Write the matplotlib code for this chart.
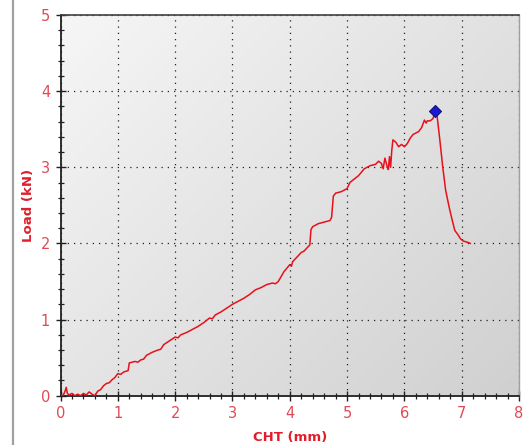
import numpy as np
import matplotlib
matplotlib.use("Agg")
import matplotlib.pyplot as plt
from matplotlib.lines import Line2D
from matplotlib.ticker import MultipleLocator

# Data
cht_mm = [0, 0.05, 0.08, 0.1, 0.12, 0.15, 0.2, 0.25, 0.3, 0.35, 0.4, 0.45, 0.5, 0.55, 0.6,
          0.65, 0.7, 0.75, 0.8, 0.85, 0.9, 0.95, 1.0, 1.05, 1.1, 1.18, 1.2, 1.25, 1.3, 1.35,
          1.4, 1.45, 1.5, 1.6, 1.7, 1.75, 1.8, 1.9, 2.0, 2.05,
          2.1, 2.2, 2.3, 2.4, 2.5, 2.6, 2.65, 2.7, 2.8, 2.9, 3.0, 3.1, 3.2, 3.3, 3.4, 3.5, 3.55,
          3.6, 3.7, 3.75, 3.8, 3.9, 4.0, 4.03, 4.05, 4.1, 4.2, 4.25, 4.3, 4.35, 4.37, 4.4, 4.5,
          4.6, 4.7, 4.73, 4.76, 4.8, 4.9, 5.0, 5.05, 5.1, 5.2, 5.3, 5.4, 5.5, 5.55, 5.6, 5.63,
          5.66, 5.7, 5.72, 5.74, 5.76, 5.78, 5.8, 5.85, 5.9, 5.95, 6.0, 6.05, 6.1, 6.15, 6.2,
          6.25, 6.3, 6.35, 6.38, 6.4, 6.45, 6.5, 6.53, 6.57, 6.62, 6.67, 6.72, 6.78, 6.83,
          6.88, 6.93, 6.98, 7.03, 7.08, 7.12, 7.15]
load_kn = [0, 0.01, 0.06, 0.11, 0.03, 0.01, 0.03, 0.0, 0.02, 0.0, 0.03, 0.01, 0.05, 0.02, 0.0,
           0.06, 0.08, 0.13, 0.16, 0.17, 0.21, 0.24, 0.29, 0.28, 0.31, 0.33, 0.43, 0.44, 0.45,
           0.44, 0.47, 0.48, 0.53, 0.57, 0.60, 0.61, 0.67, 0.72, 0.77, 0.76,
           0.80, 0.83, 0.87, 0.91, 0.96, 1.02, 1.01, 1.06, 1.10, 1.15, 1.20, 1.24, 1.28,
           1.33, 1.39, 1.42, 1.44, 1.46, 1.48, 1.47, 1.50, 1.63, 1.72, 1.70, 1.76, 1.80, 1.88,
           1.90, 1.94, 1.98, 2.18, 2.22, 2.26, 2.28, 2.30, 2.34, 2.62, 2.66, 2.68, 2.72, 2.80,
           2.83, 2.89, 2.98, 3.02, 3.04, 3.08, 3.05, 2.98, 3.12, 3.01, 2.97, 3.14, 3.00, 3.22,
           3.36, 3.33, 3.27, 3.30, 3.27, 3.31, 3.38, 3.43, 3.45, 3.47, 3.52, 3.62, 3.58, 3.61,
           3.61, 3.64, 3.72, 3.68, 3.35, 3.0, 2.70, 2.48, 2.32, 2.17, 2.12, 2.06, 2.03, 2.02,
           2.01, 2.00]
peak_x = [6.53]
peak_y = [3.74]
x_ticks = [0, 1, 2, 3, 4, 5, 6, 7, 8]
y_ticks = [0, 1, 2, 3, 4, 5]

red_line = "#e8101a"
tick_red = "#e04a58"
label_red = "#e01e2a"

fig = plt.figure(figsize=(5.23, 4.45), dpi=100)
W, H = 523, 445
ax = fig.add_axes([60.5 / W, 1 - 395.7 / H, (519 - 60.5) / W, (395.7 - 15) / H])

# gradient background
n = 200
u = np.linspace(0, 1, n)
U, V = np.meshgrid(u, u)  # V: 0 top -> 1 bottom (imshow origin upper)
g = 0.965 - 0.15 * (0.55 * U + 0.45 * V)
ax.imshow(np.dstack([g, g, g]), extent=[0, 1, 0, 1], transform=ax.transAxes,
          aspect="auto", zorder=0, origin="upper")

ax.set_xlim(0, 8)
ax.set_ylim(0, 5)
ax.set_xticks(x_ticks)
ax.set_yticks(y_ticks)
ax.xaxis.set_minor_locator(MultipleLocator(0.2))
ax.yaxis.set_minor_locator(MultipleLocator(0.2))
ax.grid(True, which="major", linestyle=(0, (1, 4)), color="#202020", linewidth=0.9, zorder=1)

ax.plot(cht_mm, load_kn, color=red_line, linewidth=1.1, zorder=3)
ax.plot(peak_x, peak_y, marker="D", markersize=6, color="#1a1ad0",
        markeredgecolor="#101080", markeredgewidth=0.8, linestyle="none", zorder=4)

ax.tick_params(axis="both", which="major", direction="inout", length=7, width=1.0,
               color="#202020", labelsize=10.5, labelcolor=tick_red, pad=4)
ax.tick_params(axis="both", which="minor", direction="inout", length=5, width=0.9,
               color="#202020")
ax.tick_params(axis="y", pad=4)
ax.tick_params(top=False, right=False, which="both")

for s in ["left", "bottom"]:
    ax.spines[s].set_color("#202020")
    ax.spines[s].set_linewidth(1.3)
ax.spines["top"].set_color("#404040")
ax.spines["top"].set_linewidth(1.2)
ax.spines["right"].set_color("#a0a0a0")
ax.spines["right"].set_linewidth(1.0)

ax.set_xlabel("CHT (mm)", color=label_red, fontsize=9.5, fontweight="bold", labelpad=7)
ax.set_ylabel("Load (kN)", color=label_red, fontsize=9.5, fontweight="bold", labelpad=4)

# left border line of the window
fig.add_artist(Line2D([12.5 / W, 12.5 / W], [0, 1], color="#a0a0a0", linewidth=1.6,
                      transform=fig.transFigure))

fig.savefig("out.png", dpi=100, facecolor="white")
